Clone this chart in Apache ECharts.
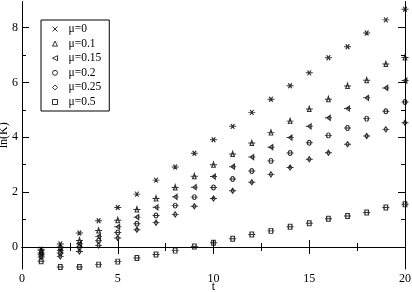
<!DOCTYPE html>
<html><head><meta charset="utf-8">
<script src="https://cdn.jsdelivr.net/npm/echarts@6/dist/echarts.min.js"></script>
<style>html,body{margin:0;padding:0;background:#fff}#c{width:412px;height:292px}</style>
</head><body><div id="c"></div><script>
// data
const tValues = [1,2,3,4,5,6,7,8,9,10,11,12,13,14,15,16,17,18,19,20];
const mu0   = [-0.08,0.11,0.51,0.96,1.44,1.93,2.44,2.92,3.42,3.91,4.40,4.91,5.39,5.88,6.35,6.90,7.30,7.80,8.28,8.67];
const mu010 = [-0.13,0.00,0.24,0.60,0.98,1.37,1.77,2.17,2.58,3.00,3.39,3.79,4.17,4.59,5.03,5.39,5.87,6.08,6.67,6.91];
const mu015 = [-0.22,-0.12,0.12,0.39,0.74,1.09,1.45,1.83,2.18,2.57,2.93,3.28,3.64,3.99,4.40,4.71,5.05,5.44,5.80,6.07];
const mu020 = [-0.28,-0.22,0.00,0.23,0.53,0.85,1.15,1.51,1.82,2.17,2.48,2.77,3.14,3.43,3.80,4.07,4.34,4.68,4.95,5.29];
const mu025 = [-0.36,-0.34,-0.16,0.06,0.33,0.63,0.89,1.19,1.49,1.77,2.05,2.36,2.65,2.90,3.20,3.44,3.75,4.05,4.29,4.53];
const mu050 = [-0.52,-0.73,-0.73,-0.64,-0.53,-0.40,-0.27,-0.13,0.02,0.16,0.30,0.46,0.59,0.74,0.87,1.03,1.13,1.26,1.44,1.56];
const seriesNames = ['μ=0','μ=0.1','μ=0.15','μ=0.2','μ=0.25','μ=0.5'];
const seriesValues = [mu0, mu010, mu015, mu020, mu025, mu050];
const xMajorTicks = [0,5,10,15,20];
const yMajorTicks = [0,2,4,6,8];
const yMinorTicks = [1,3,5,7];

// marker shapes (with error-bar cap line) and legend icons (without)
const markerPaths = [
  'path://M0 5L10 5M2.5 0L7.5 10M7.5 0L2.5 10',
  'path://M0 5L10 5M5 0L7.5 10L2.5 10Z',
  'path://M0 5L10 5M2.5 5L7.5 0L7.5 10Z',
  'path://M0 5L10 5M2.5 5A2.5 5 0 1 0 7.5 5A2.5 5 0 1 0 2.5 5Z',
  'path://M0 5L10 5M5 0L7.5 5L5 10L2.5 5Z',
  'path://M0 5L10 5M2.5 0L7.5 0L7.5 10L2.5 10Z'
];
const legendIcons = [
  'path://M0 0L10 10M10 0L0 10',
  'path://M5 0L10 10L0 10Z',
  'path://M0 5L10 0L10 10Z',
  'path://M0 5A5 5 0 1 0 10 5A5 5 0 1 0 0 5Z',
  'path://M5 0L10 5L5 10L0 5Z',
  'path://M0 0L10 0L10 10L0 10Z'
];

const font = 'Liberation Serif';
const yMin = -0.8, yMax = 8.95;

function yAx(pos, ticks, len, showLine, showLabel, name) {
  return {
    type: 'value', position: pos, min: yMin, max: yMax,
    axisLine: {show: showLine, lineStyle: {color: '#000', width: 1}},
    axisTick: {show: true, inside: true, length: len, customValues: ticks, lineStyle: {color: '#000'}},
    axisLabel: {show: showLabel, customValues: yMajorTicks, color: '#000', fontFamily: font, fontSize: 12, margin: 4},
    splitLine: {show: false},
    name: name || '', nameLocation: 'middle', nameGap: 12, nameMoveOverlap: false,
    nameTextStyle: {color: '#000', fontFamily: font, fontSize: 12}
  };
}
function xAx(pos, showLabel, name) {
  return {
    type: 'value', position: pos, min: 0, max: 20, interval: 5,
    axisLine: {show: true, lineStyle: {color: '#000', width: 1}},
    axisTick: {show: true, inside: true, length: 7, lineStyle: {color: '#000'}},
    minorTick: {show: true, splitNumber: 2, length: 4, lineStyle: {color: '#000'}},
    axisLabel: {show: showLabel, color: '#000', fontFamily: font, fontSize: 12, margin: 4},
    splitLine: {show: false}, minorSplitLine: {show: false},
    name: name || '', nameLocation: 'middle', nameGap: 12, nameMoveOverlap: false,
    nameTextStyle: {color: '#000', fontFamily: font, fontSize: 12}
  };
}

const chart = echarts.init(document.getElementById('c'), null, {renderer: 'canvas'});
chart.setOption({
  animation: false,
  backgroundColor: '#fff',
  grid: {left: 22, right: 7, top: 1.5, bottom: 23, containLabel: false, outerBoundsMode: 'none'},
  xAxis: [xAx('bottom', true, 't'), xAx('top', false)],
  yAxis: [
    yAx('left', yMajorTicks, 7, true, true, 'ln(K)'),
    yAx('left', yMinorTicks, 4, false, false),
    yAx('right', yMajorTicks, 7, true, false),
    yAx('right', yMinorTicks, 4, false, false)
  ],
  legend: {
    orient: 'vertical', left: 41, top: 20,
    data: seriesNames.map((n, i) => ({name: n, icon: legendIcons[i]})),
    itemWidth: 5, itemHeight: 5, itemGap: 2.6,
    borderColor: '#000', borderWidth: 1, padding: [3, 8, 3, 9],
    textStyle: {color: '#000', fontFamily: font, fontSize: 11.5, lineHeight: 11, padding: [0, 0, 0, 6]},
    itemStyle: {color: 'none', borderColor: '#000', borderWidth: 1}
  },
  series: seriesNames.map((n, i) => ({
    name: n, type: 'scatter', xAxisIndex: 0, yAxisIndex: 0,
    data: tValues.map((t, j) => [t, seriesValues[i][j]]),
    symbol: markerPaths[i], symbolSize: [7, 5],
    itemStyle: {color: 'none', borderColor: '#000', borderWidth: 1.1},
    emphasis: {disabled: true}
  }))
});
</script></body></html>
